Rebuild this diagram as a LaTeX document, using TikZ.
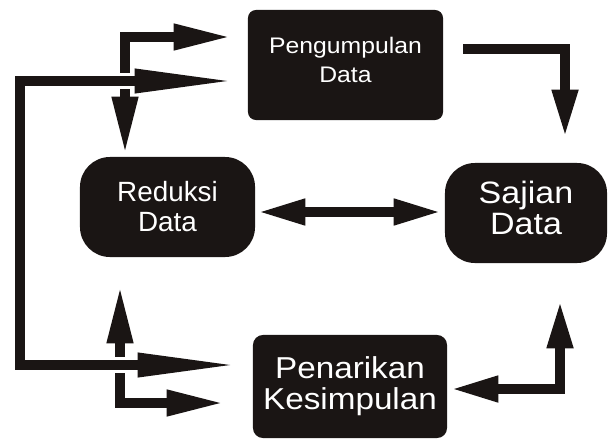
\documentclass[tikz,border=0pt]{standalone}
\usepackage{fontspec}
\setmainfont{Liberation Sans}
\newfontfamily\widesans{Liberation Sans}[FakeStretch=1.1]
\usepackage{xcolor}
\usepackage{tikz}
\usetikzlibrary{arrows.meta,calc,positioning}
\definecolor{ink}{HTML}{1A1514}

\begin{document}
\begin{tikzpicture}[
    x=0.025cm, y=-0.025cm,
    every node/.style={fill=ink, text=white, align=center, inner sep=0pt},
    flow/.style={draw=ink, line width=0.25cm, line join=miter},
    longtip/.tip={Triangle[length=2.55cm, width=0.55cm]},
    shorttip/.tip={Triangle[length=1.45cm, width=0.6cm]},
    midtip/.tip={Triangle[length=1.2cm, width=0.6cm]},
]
\useasboundingbox (0,0) rectangle (609,440);

\node [minimum width=4.875cm, minimum height=2.75cm, rounded corners=0.2cm, text depth=0.275cm, font=\widesans\fontsize{16}{20.6}\selectfont] (pengumpulan) at (345.5,65) {Pengumpulan\\Data};
\node [minimum width=4.375cm, minimum height=2.5cm, rounded corners=0.75cm, font=\fontsize{19.8}{21.3}\selectfont] (reduksi) at (167.5,207) {Reduksi\\Data};
\node [minimum width=4.05cm, minimum height=2.5cm, rounded corners=0.75cm, text depth=0.275cm, font=\widesans\fontsize{22}{22}\selectfont] (sajian) at (526,213) {Sajian\\Data};
\node [minimum width=4.85cm, minimum height=2.575cm, rounded corners=0.25cm, font=\widesans\fontsize{21.5}{22}\selectfont] (penarikan) at (350,386.5) {Penarikan\\Kesimpulan};

% arrows crossed by the loop
\draw [flow, shorttip-shorttip] ($(reduksi.north)+(-42.5,-2)$) |- ($(pengumpulan.west)+(-16,-28)$);
\draw [flow, shorttip-shorttip] ($(reduksi.south)+(-47.5,28)$) |- ($(penarikan.west)+(-28,16.5)$);
% loop on the left
\draw [flow, longtip-longtip, preaction={draw=white, line width=0.4cm, arrows=-}] ($(pengumpulan.west)+(-11,16)$) -| (20,365) -- ($(penarikan.west)+(-13,-21.5)$);

\draw [flow, -midtip] ($(pengumpulan.east)+(20,-16)$) -| ($(sajian.north)+(39,-25)$);
\draw [flow, midtip-midtip] ($(reduksi.east)+(2,5)$) -- ($(sajian.west)+(-3,-1)$);
\draw [flow, midtip-midtip] ($(penarikan.east)+(3,2.5)$) -| ($(sajian.south)+(34,37)$);
\end{tikzpicture}
\end{document}
